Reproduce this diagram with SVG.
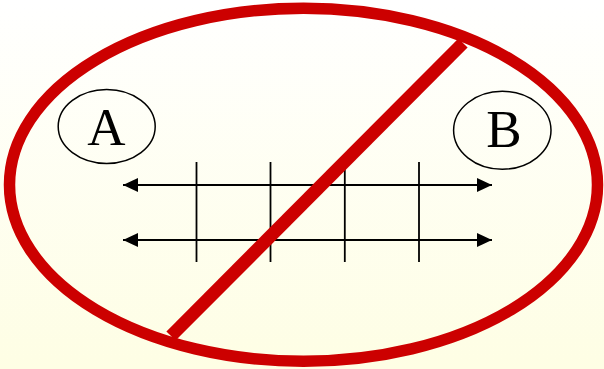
<svg xmlns="http://www.w3.org/2000/svg" width="604" height="369" viewBox="0 0 604 369">
  <defs>
    <linearGradient id="bg" x1="0" y1="0" x2="0" y2="1">
      <stop offset="0" stop-color="#FFFFFF"/>
      <stop offset="1" stop-color="#FEFEE4"/>
    </linearGradient>
    <marker id="arr" viewBox="0 0 15 14" refX="15" refY="7" markerWidth="15" markerHeight="14" markerUnits="userSpaceOnUse" orient="auto-start-reverse">
      <path d="M0,0 L15,7 L0,14 Z" fill="#000"/>
    </marker>
    <style>
      .node { fill: none; stroke: #000; stroke-width: 1.5; }
      .lbl { font-family: "Liberation Serif", "Times New Roman", serif; font-size: 53px; fill: #000; text-anchor: middle; }
      .arrow { stroke: #000; stroke-width: 2; fill: none; marker-start: url(#arr); marker-end: url(#arr); }
      .tick { stroke: #000; stroke-width: 1.8; }
      .ban { fill: none; stroke: #CC0000; stroke-width: 11.5; }
      .slash { fill: none; stroke: #CC0000; stroke-width: 13; }
    </style>
  </defs>
  <rect x="0" y="0" width="604" height="369" fill="url(#bg)"/>
  <g id="grid">
    <line class="tick" x1="196.5" y1="162" x2="196.5" y2="262"/>
    <line class="tick" x1="270.5" y1="162" x2="270.5" y2="262"/>
    <line class="tick" x1="344.8" y1="162" x2="344.8" y2="262"/>
    <line class="tick" x1="419" y1="162" x2="419" y2="262"/>
  </g>
  <g id="connectors">
    <line class="arrow" x1="123" y1="185" x2="492" y2="185"/>
    <line class="arrow" x1="123" y1="240" x2="492" y2="240"/>
  </g>
  <g id="nodeA">
    <ellipse class="node" cx="106.7" cy="126.5" rx="48.5" ry="37"/>
    <text class="lbl" x="106.5" y="144.5">A</text>
  </g>
  <g id="nodeB">
    <ellipse class="node" cx="502.3" cy="130.3" rx="48.7" ry="39"/>
    <text class="lbl" x="504" y="146.5">B</text>
  </g>
  <g id="prohibition">
    <ellipse class="ban" cx="303.5" cy="184.8" rx="294" ry="176.5"/>
    <line class="slash" x1="463" y1="43" x2="171" y2="336"/>
  </g>
</svg>
